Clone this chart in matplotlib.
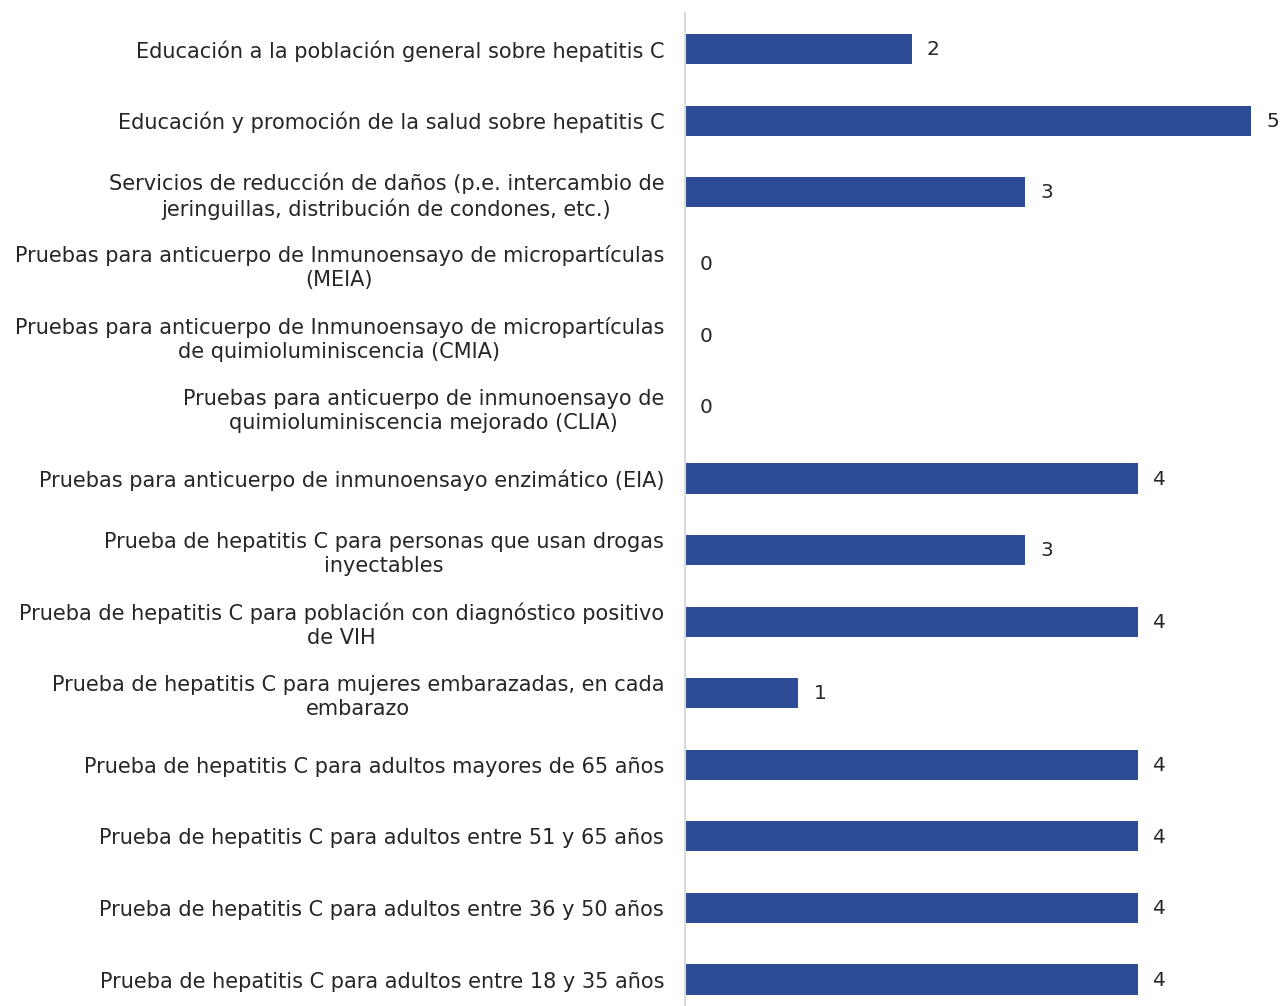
import matplotlib.pyplot as plt

plt.rcParams['font.family'] = ['DejaVu Sans']

categorias = [
    "Educación a la población general sobre hepatitis C",
    "Educación y promoción de la salud sobre hepatitis C",
    "Servicios de reducción de daños (p.e. intercambio de\njeringuillas, distribución de condones, etc.)",
    "Pruebas para anticuerpo de Inmunoensayo de micropartículas\n(MEIA)",
    "Pruebas para anticuerpo de Inmunoensayo de micropartículas\nde quimioluminiscencia (CMIA)",
    "Pruebas para anticuerpo de inmunoensayo de\nquimioluminiscencia mejorado (CLIA)",
    "Pruebas para anticuerpo de inmunoensayo enzimático (EIA)",
    "Prueba de hepatitis C para personas que usan drogas\ninyectables",
    "Prueba de hepatitis C para población con diagnóstico positivo\nde VIH",
    "Prueba de hepatitis C para mujeres embarazadas, en cada\nembarazo",
    "Prueba de hepatitis C para adultos mayores de 65 años",
    "Prueba de hepatitis C para adultos entre 51 y 65 años",
    "Prueba de hepatitis C para adultos entre 36 y 50 años",
    "Prueba de hepatitis C para adultos entre 18 y 35 años",
]
valores = [2, 5, 3, 0, 0, 0, 4, 3, 4, 1, 4, 4, 4, 4]

W, H = 1282, 1006
fig = plt.figure(figsize=(W / 100, H / 100), dpi=100)
ax = fig.add_axes([685 / W, 0, 1 - 685 / W, (H - 13) / H])

pos = list(range(len(categorias)))
ax.barh(pos, valores, height=0.42, color='#2C4D95')
ax.set_xlim(0, 5.27)
ax.set_ylim(13.37, -0.503)

for y, v in zip(pos, valores):
    ax.annotate(str(v), (v, y), xytext=(15.5, -0.5), textcoords='offset points',
                ha='center', va='center', fontsize=14.5, color='#262626')

ax.set_yticks(pos)
ax.set_yticklabels(categorias, fontsize=15, color='#262626')
for t in ax.get_yticklabels():
    t.set_multialignment('center')
    t.set_linespacing(1.25)
ax.tick_params(axis='y', length=0, pad=15)
ax.set_xticks([])
for s in ['top', 'right', 'bottom']:
    ax.spines[s].set_visible(False)
ax.spines['left'].set_color('#D9D9D9')
ax.spines['left'].set_linewidth(1.5)

fig.savefig('out.png', dpi=100)
